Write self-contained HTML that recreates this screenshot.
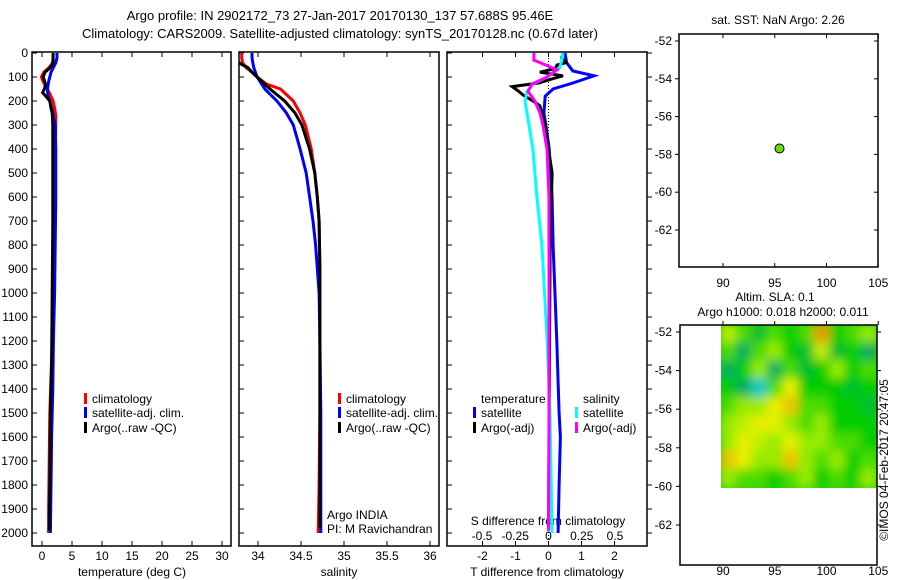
<!DOCTYPE html>
<html><head><meta charset="utf-8">
<style>
html,body{margin:0;padding:0;background:#fff;}
svg{display:block;font-family:"Liberation Sans",Arial,sans-serif;}
text{font-size:12px;fill:#000;}
</style></head>
<body>
<svg id="fig" width="900" height="580" viewBox="0 0 900 580" xmlns="http://www.w3.org/2000/svg">
<defs>
<filter id="blur" x="-5%" y="-5%" width="110%" height="110%"><feGaussianBlur stdDeviation="5"/></filter>
<clipPath id="hmclip"><rect x="721" y="325" width="156" height="163"/></clipPath>
</defs>
<text x="340" y="20" text-anchor="middle" style="font-size:13px">Argo profile: IN 2902172_73 27-Jan-2017 20170130_137 57.688S 95.46E</text>
<text x="340" y="38" text-anchor="middle" style="font-size:13px">Climatology: CARS2009. Satellite-adjusted climatology: synTS_20170128.nc (0.67d later)</text>
</svg>
<script>
// ---------- data ----------
const depthTicks=[0,100,200,300,400,500,600,700,800,900,1000,1100,1200,1300,1400,1500,1600,1700,1800,1900,2000];
const tempTicks=[0,5,10,15,20,25,30];
const salTicks=[34,34.5,35,35.5,36];
const tdiffTicks=[-2,-1,0,1,2];
const sdiffTickLabels=["-0.5","-0.25","0","0.25","0.5"];
const sdiffTicks=[-0.5,-0.25,0,0.25,0.5];
const lonTicks=[90,95,100,105];
const latTicks=[-52,-54,-56,-58,-60,-62];

const climTDepth=[0,20,40,60,80,100,120,150,180,200,230,260,300,400,600,800,1000,1200,1500,1700,1900,2000];
const climT=[1.85,1.85,1.8,1.2,0.3,-0.1,0.2,0.9,1.5,1.85,2.1,2.3,2.3,2.2,2.1,2.0,1.9,1.7,1.3,1.2,1.1,1.1];
const satTDepth=[0,20,40,60,80,100,120,150,180,200,250,300,400,600,800,1000,1200,1400,1600,1800,2000];
const satT=[2.5,2.5,2.3,1.9,1.5,1.3,1.1,0.9,1.0,1.3,1.8,2.2,2.3,2.3,2.2,2.1,1.9,1.8,1.6,1.5,1.4];
const argoTDepth=[0,30,50,65,80,100,115,130,150,165,185,200,230,250,300,400,700,1000,1300,1500,1800,1990];
const argoT=[1.85,1.85,1.7,1.2,0.5,0.2,0.4,0.6,0.4,0.1,0.8,1.3,1.5,1.7,1.8,1.8,1.8,1.7,1.6,1.4,1.3,1.2];

const climSDepth=[0,20,40,60,80,100,130,150,200,250,300,400,500,600,700,900,1200,1500,1800,2000];
const climS=[33.81,33.81,33.82,33.86,33.93,33.99,34.1,34.26,34.41,34.49,34.55,34.62,34.66,34.69,34.71,34.72,34.72,34.72,34.71,34.70];
const satSDepth=[0,20,40,60,80,100,150,200,250,300,400,500,600,700,800,1000,1200,1500,1800,2000];
const satS=[33.93,33.93,33.94,33.95,33.97,33.99,34.08,34.22,34.33,34.41,34.49,34.56,34.60,34.64,34.67,34.71,34.72,34.73,34.73,34.73];
const argoSDepth=[40,50,60,80,100,150,200,250,300,400,500,600,700,900,1200,1500,1800,1980];
const argoS=[33.78,33.82,33.88,33.93,33.99,34.14,34.31,34.43,34.51,34.60,34.66,34.69,34.71,34.72,34.72,34.72,34.72,34.72];

const satDTDepth=[0,40,75,95,125,150,180,250,300,400,600,800,1200,1500,1600,1800,2000];
const satDT=[0.5,0.55,0.74,1.38,0.74,0.14,-0.1,-0.14,-0.08,0.02,0.11,0.14,0.25,0.32,0.36,0.32,0.29];
const argoDTDepth=[0,20,40,50,65,80,95,110,125,140,160,175,200,220,300,400,500,800,1500,1990];
const argoDT=[0.45,0.4,0.53,0.26,0.2,-0.26,0.44,0.05,-0.3,-1.1,-0.9,-0.77,-0.47,-0.26,-0.1,0,0.11,0.05,0.02,0];
const satDSDepth=[0,30,60,100,130,160,200,250,400,600,800,1200,1500,2000];
const satDS=[0.11,0.1,0.086,-0.01,-0.117,-0.162,-0.177,-0.162,-0.117,-0.087,-0.05,-0.01,0.011,0.026];
const argoDSDepth=[0,30,40,70,100,130,160,200,250,300,400,600,1500,1990];
const argoDS=[-0.11,-0.11,-0.064,0.064,-0.011,-0.125,-0.154,-0.102,-0.064,-0.042,-0.011,0.004,0.004,0];

const floatLon=[95.46];
const floatLat=[-57.688];
// SLA heatmap values (rows top->bottom, cols left->right)
const slaGrid=[
[0.15,0.05,-0.05,0.05,0,0.05,0.3,0,0.05,0.1],
[0.05,-0.1,0.05,0.1,0,-0.05,0.15,-0.05,0,-0.1],
[-0.1,0,0.1,-0.1,0.05,-0.05,0,0.1,0,0.05],
[0,-0.1,-0.2,0.05,0.2,0,0,0,-0.05,0],
[0.05,0.1,0.1,0.2,0.25,0.05,0.05,0,0,-0.05],
[0.1,0.15,0.2,0.2,0.1,0.05,0.1,0,0,0],
[0.1,0.2,0.15,0.1,0.2,0.1,0.1,0.05,0.05,0],
[0.25,0.2,0.1,0.1,0.25,0.1,0.05,0.1,0,0.05],
[0.1,0.05,0.05,0,0.05,0.1,0,0.05,0,0.1]];

// ---------- helpers ----------
const NS="http://www.w3.org/2000/svg";
const svg=document.getElementById('fig');
function el(tag,attrs,parent){const e=document.createElementNS(NS,tag);for(const k in attrs)e.setAttribute(k,attrs[k]);(parent||svg).appendChild(e);return e;}
function txt(x,y,s,anchor,parent){const t=el('text',{x:x,y:y,'text-anchor':anchor||'start'},parent);t.textContent=s;return t;}

const Y0=53, PY=0.24;
const yD=d=>Y0+PY*d;
const xT=v=>42+6*v;
const xS=v=>258+86*(v-34);
const xDT=v=>548.5+33*v;
const xDS=v=>548.5+133*v;
const xLon=v=>723+10.35*(v-90);
const yLat1=v=>41+18.9*(-52-v);
const yLat2=v=>332+19.3*(-52-v);

function frame(x0,y0,x1,y1,name){
  const r=el('rect',{x:x0,y:y0,width:x1-x0,height:y1-y0,fill:'none',stroke:'#000','stroke-width':1.5});
  
  
}
function line(xs,ds,xf,color,name){
  const pts=xs.map((v,i)=>xf(v).toFixed(1)+','+yD(ds[i]).toFixed(1)).join(' ');
  const p=el('polyline',{points:pts,fill:'none',stroke:color,'stroke-width':3,'stroke-linejoin':'miter'});
  
  
}

// ---------- profile panels ----------
const panels=[[32,231,'temperature-panel'],[239,439,'salinity-panel'],[447,647,'difference-panel']];
const YB=546;
panels.forEach(p=>{
  frame(p[0],52,p[1],YB,p[2]+'-frame');
  depthTicks.forEach(d=>{el('line',{x1:p[0],x2:p[0]+5,y1:yD(d),y2:yD(d),stroke:'#000'});});
});
panels[2] && depthTicks.forEach(d=>{el('line',{x1:647,x2:652,y1:yD(d),y2:yD(d),stroke:'#000'});});
depthTicks.forEach(d=>{const t=txt(28,yD(d)+4,String(d),'end');
  
  });

tempTicks.forEach(v=>{const x=xT(v);
  el('line',{x1:x,x2:x,y1:52,y2:57,stroke:'#000'});el('line',{x1:x,x2:x,y1:YB,y2:YB-5,stroke:'#000'});
  const t=txt(x,560,String(v),'middle');
  
  });
salTicks.forEach(v=>{const x=xS(v);
  el('line',{x1:x,x2:x,y1:52,y2:57,stroke:'#000'});el('line',{x1:x,x2:x,y1:YB,y2:YB-5,stroke:'#000'});
  const t=txt(x,560,String(v),'middle');
  
  });
tdiffTicks.forEach(v=>{const x=xDT(v);
  el('line',{x1:x,x2:x,y1:52,y2:57,stroke:'#000'});el('line',{x1:x,x2:x,y1:YB,y2:YB-5,stroke:'#000'});
  const t=txt(x,560,String(v),'middle');
  
  });
sdiffTicks.forEach((v,i)=>{const t=txt(xDS(v),540,sdiffTickLabels[i],'middle');
  
  });

let t;
t=txt(132,576,'temperature (deg C)','middle');
t=txt(339,576,'salinity','middle');
t=txt(547,576,'T difference from climatology','middle');
t=txt(548,525,'S difference from climatology','middle');

// zero line
const z=el('line',{x1:xDT(0),x2:xDT(0),y1:52,y2:YB,stroke:'#000','stroke-dasharray':'1,2'});



line(climT,climTDepth,xT,'#f00','temperature-climatology-line');
line(satT,satTDepth,xT,'#00f','temperature-satellite-line');
line(argoT,argoTDepth,xT,'#000','temperature-argo-line');
line(climS,climSDepth,xS,'#f00','salinity-climatology-line');
line(satS,satSDepth,xS,'#00f','salinity-satellite-line');
line(argoS,argoSDepth,xS,'#000','salinity-argo-line');
line(satDT,satDTDepth,xDT,'#00f','t-diff-satellite-line');
line(argoDT,argoDTDepth,xDT,'#000','t-diff-argo-line');
line(satDS,satDSDepth,xDS,'#0ff','s-diff-satellite-line');
line(argoDS,argoDSDepth,xDS,'#f0f','s-diff-argo-line');

// legends
function leg(x,y,color,label,name){
  const r=el('rect',{x:x,y:y-10,width:3,height:11,fill:color});
  
  
  const tt=txt(x+8,y,label);
  
  
}
leg(84,403,'#f00','climatology','legend-t-climatology');
leg(84,417,'#00f','satellite-adj. clim.','legend-t-satellite');
leg(84,432,'#000','Argo(..raw -QC)','legend-t-argo');
leg(338,403,'#f00','climatology','legend-s-climatology');
leg(338,417,'#00f','satellite-adj. clim.','legend-s-satellite');
leg(338,432,'#000','Argo(..raw -QC)','legend-s-argo');
t=txt(481,403,'temperature');
t=txt(583,403,'salinity');
leg(473,417,'#00f','satellite','legend-dt-satellite');
leg(473,432,'#000','Argo(-adj)','legend-dt-argo');
leg(575,417,'#0ff','satellite','legend-ds-satellite');
leg(575,432,'#f0f','Argo(-adj)','legend-ds-argo');
t=txt(327,519,'Argo INDIA');
t=txt(327,533,'PI: M Ravichandran');

// ---------- map panel 1 ----------
frame(679,34,878,267,'sst-map-frame');
t=txt(778,24,'sat. SST: NaN Argo: 2.26','middle');
latTicks.forEach(v=>{const y=yLat1(v);el('line',{x1:679,x2:675,y1:y,y2:y,stroke:'#000'});el('line',{x1:878,x2:874,y1:y,y2:y,stroke:'#000'});
  const tt=txt(672,y+4,String(v),'end');});
lonTicks.forEach(v=>{const x=xLon(v);el('line',{x1:x,x2:x,y1:34,y2:38,stroke:'#000'});el('line',{x1:x,x2:x,y1:267,y2:263,stroke:'#000'});
  const tt=txt(x,287,String(v),'middle');});
floatLon.forEach((v,i)=>{const c=el('circle',{cx:xLon(v),cy:yLat1(floatLat[i]),r:4.5,fill:'#66dd11',stroke:'#000','stroke-width':1});
  
  });
t=txt(775,301,'Altim. SLA: 0.1','middle');
t=txt(783,316,'Argo h1000: 0.018 h2000: 0.011','middle');

// ---------- SLA heatmap ----------
function slaColor(v){
  const stops=[[-0.2,[0,200,200]],[-0.1,[0,175,90]],[0,[0,205,0]],[0.1,[150,235,0]],[0.2,[230,240,0]],[0.3,[240,150,0]]];
  if(v<=stops[0][0])return 'rgb('+stops[0][1]+')';
  for(let i=1;i<stops.length;i++){if(v<=stops[i][0]){const a=stops[i-1],b=stops[i];const f=(v-a[0])/(b[0]-a[0]);
    return 'rgb('+a[1].map((c,k)=>Math.round(c+(b[1][k]-c)*f)).join(',')+')';}}
  return 'rgb('+stops[stops.length-1][1]+')';
}
const hg=el('g',{'clip-path':'url(#hmclip)'});


const bg=el('rect',{x:721,y:325,width:156,height:163,fill:'#22cc11'},hg);
const hb=el('g',{filter:'url(#blur)'},hg);
const nR=slaGrid.length,nC=slaGrid[0].length,cw=156/nC,ch=163/nR;
slaGrid.forEach((row,r)=>row.forEach((v,c)=>{
  const cell=el('rect',{x:721+c*cw-1,y:325+r*ch-1,width:cw+2,height:ch+2,fill:slaColor(v)},hb);
  
  
}));
frame(680,325,877,565,'sla-map-frame');
[-52,-54,-56,-58,-60,-62].forEach(v=>{const y=yLat2(v);el('line',{x1:680,x2:676,y1:y,y2:y,stroke:'#000'});el('line',{x1:877,x2:881,y1:y,y2:y,stroke:'#000'});
  const tt=txt(672,y+4,String(v),'end');});
lonTicks.forEach(v=>{const x=xLon(v);el('line',{x1:x,x2:x,y1:325,y2:321,stroke:'#000'});
  const tt=txt(x,575,String(v),'middle');});
t=txt(0,0,'©IMOS 04-Feb-2017 20:47:05','middle');
t.setAttribute('transform','translate(888,460) rotate(-90)');


</script>
</body></html>
